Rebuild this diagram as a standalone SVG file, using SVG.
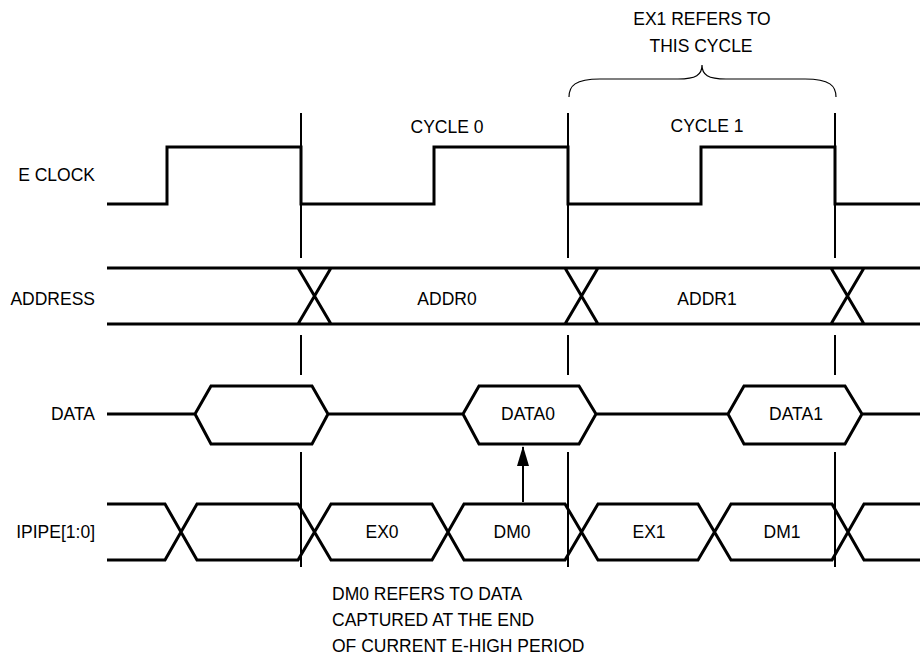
<svg xmlns="http://www.w3.org/2000/svg" width="921" height="658" viewBox="0 0 921 658">
<style>
text{font-family:"Liberation Sans",Arial,sans-serif;font-size:17.5px;fill:#000}
.m{text-anchor:middle}
.e{text-anchor:end}
.sig{fill:none;stroke:#000;stroke-width:3;stroke-linejoin:miter}
.vl{fill:none;stroke:#000;stroke-width:2}
.thin{fill:none;stroke:#000;stroke-width:1.2}
</style>
<defs>
<marker id="ah" markerWidth="20" markerHeight="12" refX="19" refY="6" orient="auto" markerUnits="userSpaceOnUse" viewBox="0 0 20 12">
<path d="M0,0 L20,6 L0,12 Z" fill="#000"/>
</marker>
</defs>
<rect width="921" height="658" fill="#fff"/>

<g id="cycle-lines">
<path class="vl" d="M301,113V258M301,335V375M301,452V567M568,113V258M568,335V375M568,452V567M835,113V258M835,335V375M835,452V567"/>
</g>

<g id="brace">
<path class="thin" d="M569,97 C569,86 575,79 600,79 L678,79 C696,79 702,75 702,65 C702,75 708,79 726,79 L805,79 C830,79 836,86 836,97"/>
<text class="m" x="702" y="25">EX1 REFERS TO</text>
<text class="m" x="701" y="52">THIS CYCLE</text>
</g>

<g id="eclock">
<text class="e" x="95" y="181">E CLOCK</text>
<path class="sig" d="M107,204H167V147H301V204H434V147H568V204H701V147H835V204H920"/>
<text class="m" x="447" y="133">CYCLE 0</text>
<text class="m" x="707" y="132">CYCLE 1</text>
</g>

<g id="address">
<text class="e" x="95" y="305">ADDRESS</text>
<path class="sig" d="M107,268H920M107,324H920M298,268L331,324M331,268L298,324M565,268L598,324M598,268L565,324M831,268L864,324M864,268L831,324"/>
<text class="m" x="447" y="305">ADDR0</text>
<text class="m" x="707" y="305">ADDR1</text>
</g>

<g id="data">
<text class="e" x="95" y="420">DATA</text>
<path class="sig" d="M107,414H195L211,386H312L328,414H463L479,386H579L596,414H728L744,386H845L862,414H920M195,414L211,444H312L328,414M463,414L479,444H579L596,414M728,414L744,444H845L862,414"/>
<text class="m" x="528" y="420">DATA0</text>
<text class="m" x="796" y="420">DATA1</text>
</g>

<g id="ipipe">
<text class="e" x="95" y="538">IPIPE[1:0]</text>
<path class="sig" d="M107,504H165L197,560H298L331,504H432L464,560H565L598,504H698L731,560H832L864,504H920M107,560H165L197,504H298L331,560H432L464,504H565L598,560H698L731,504H832L864,560H920"/>
<text class="m" x="382" y="538">EX0</text>
<text class="m" x="512" y="538">DM0</text>
<text class="m" x="649" y="538">EX1</text>
<text class="m" x="782" y="538">DM1</text>
</g>

<g id="connectors">
<line x1="523" y1="502" x2="523" y2="447" stroke="#000" stroke-width="2" marker-end="url(#ah)"/>
</g>

<g id="note">
<text x="332" y="600">DM0 REFERS TO DATA</text>
<text x="332" y="626">CAPTURED AT THE END</text>
<text x="332" y="652">OF CURRENT E-HIGH PERIOD</text>
</g>
</svg>
